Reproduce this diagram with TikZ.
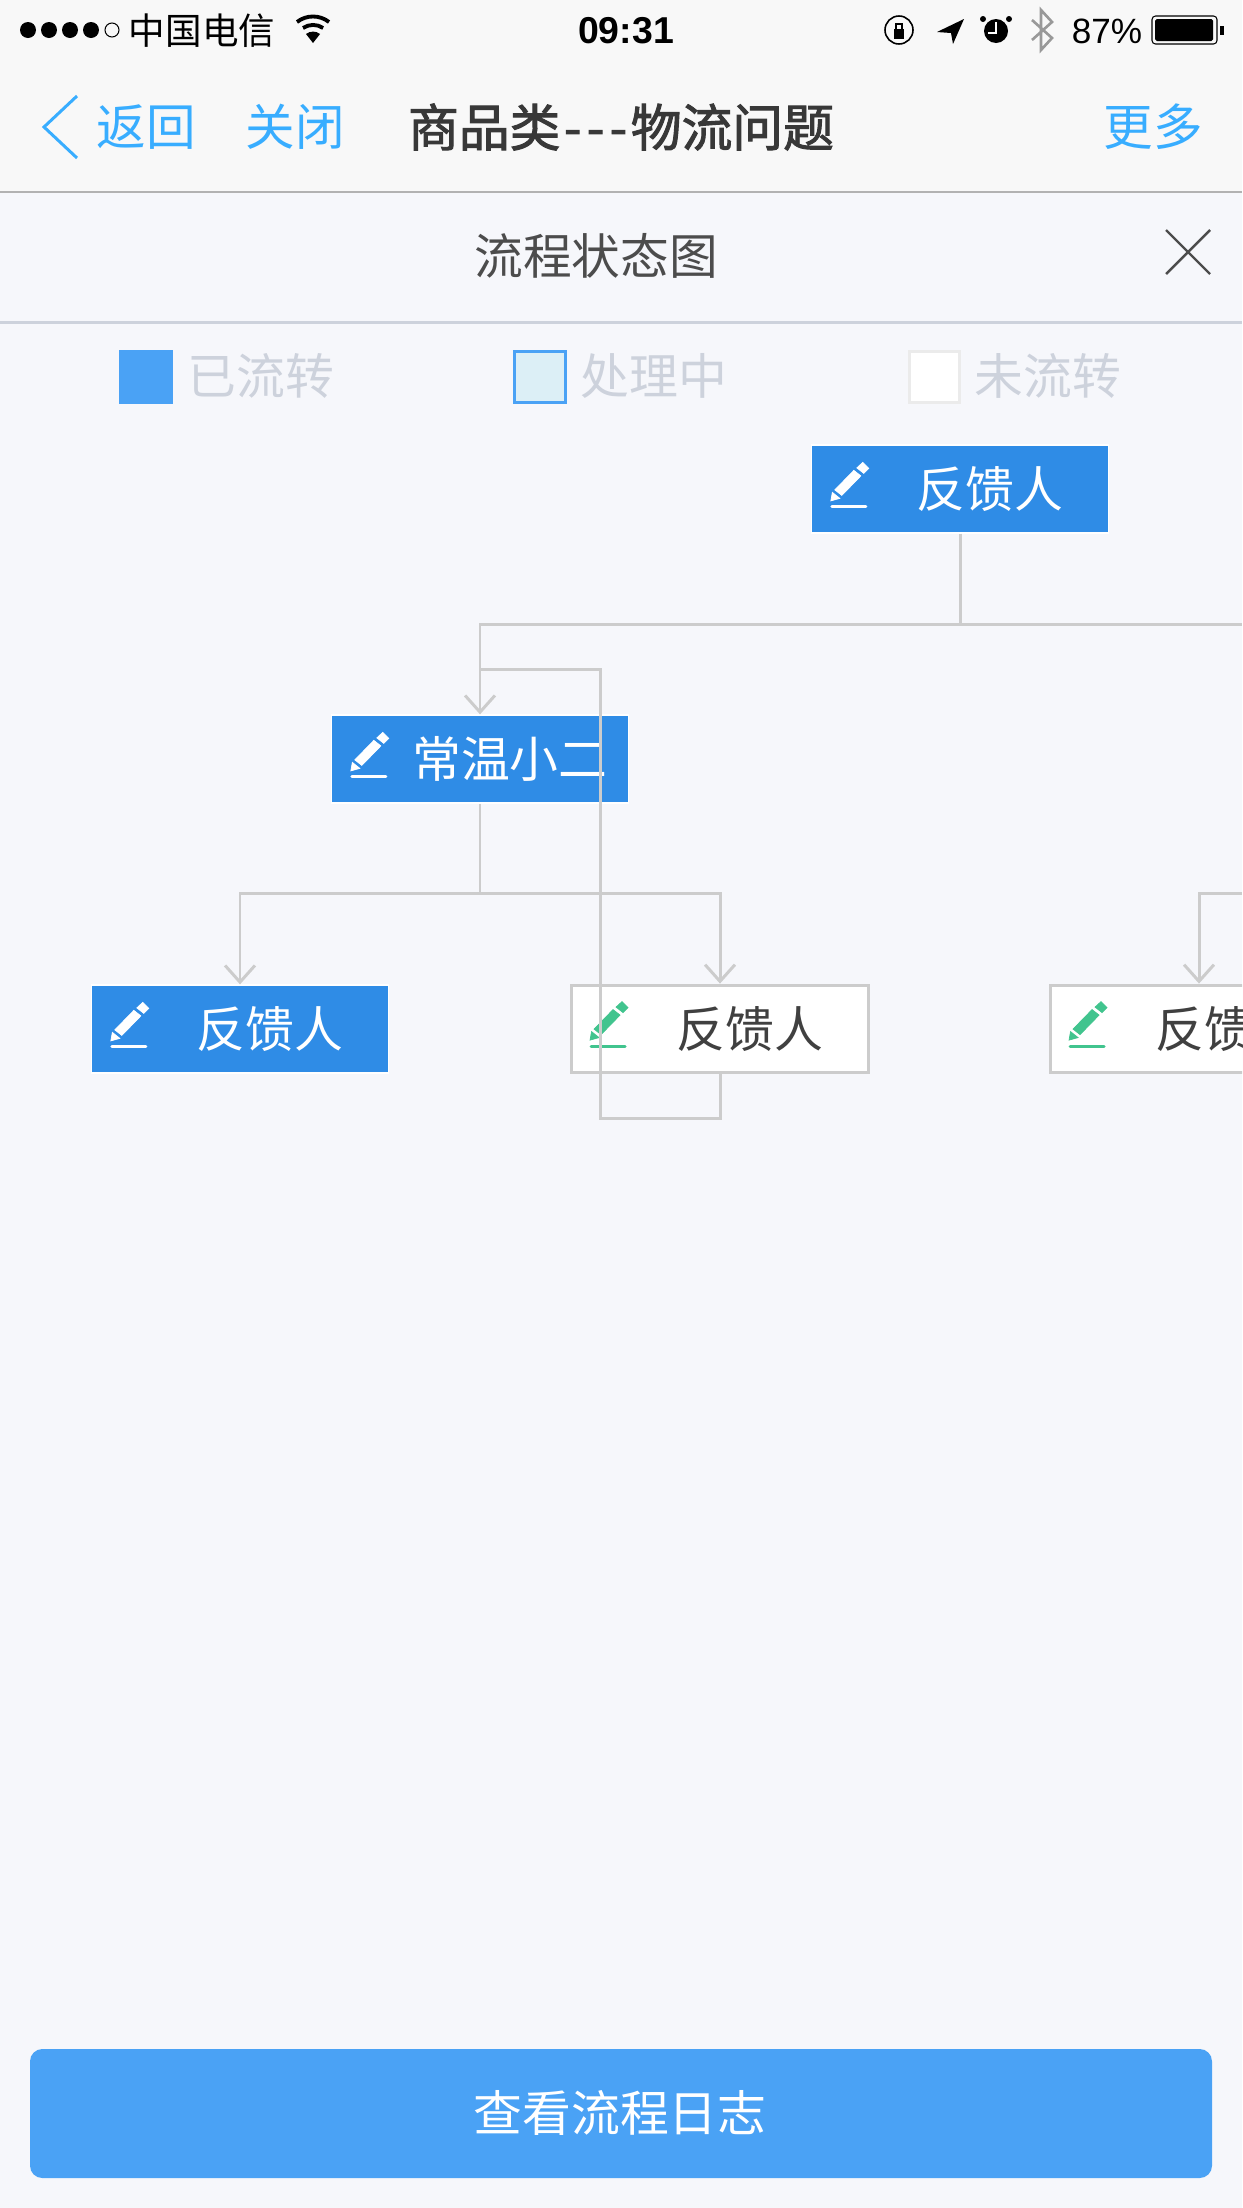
\documentclass[tikz,border=0pt]{standalone}
\usepackage{fontspec}
\usepackage{tikz}
\usetikzlibrary{arrows.meta}
\setmainfont{Noto Sans CJK SC}
\newfontfamily\latinfont{Liberation Sans}
\newcommand{\heavytext}[1]{\special{pdf:code q 2 Tr 0.55 w}#1\special{pdf:code Q}}
\definecolor{flowblue}{HTML}{2F8CE6}
\definecolor{legendblue}{HTML}{4AA2F5}
\definecolor{legendbusy}{HTML}{DCEFF6}
\definecolor{navblue}{HTML}{38ADFF}
\definecolor{flowgray}{HTML}{CCCCCC}
\definecolor{panelbg}{HTML}{F6F7FB}
\definecolor{barbg}{HTML}{F8F8F8}
\definecolor{mutedtext}{HTML}{CDD2DC}
\definecolor{pengreen}{HTML}{41C48E}
\tikzset{
  navlabel/.style={text=navblue,font=\fontsize{28.2}{30}\selectfont,inner sep=0pt},
  legendlabel/.style={text=mutedtext,font=\fontsize{27.8}{30}\selectfont,inner sep=0pt},
  statuslabel/.style={text=black,inner sep=0pt},
  doneflow/.style={draw=white,line width=0.8pt,fill=flowblue,text=white,minimum width=169pt,minimum height=50pt,inner sep=0pt,
    font=\fontsize{27.8}{30}\selectfont,execute at begin node=\hspace*{34pt}},
  waitflow/.style={doneflow,draw=flowgray,line width=1.7pt,fill=white,text=black!75},
  flowline/.style={draw=flowgray,line width=1.7pt},
  pencilicon/.pic={
    \fill[pic actions] (0,38.5) -- (1.5,30) -- (9,36) -- cycle;
    \fill[pic actions] (4,27.5) -- (23,8) -- (30,13.5) -- (11,33) -- cycle;
    \fill[pic actions] (26,5.5) -- (32,0) -- (38,6) -- (33,11) -- cycle;
    \draw[pic actions,line width=1.7pt,line cap=round] (1,44.5) -- (35,44.5);
  }
}
\begin{document}
\begin{tikzpicture}[x=0.02cm,y=-0.02cm,>={Straight Barb[length=9.5pt,width=17pt]}]
\useasboundingbox (0,0) rectangle (1242,2208);
\clip (0,0) rectangle (1242,2208);
\fill[panelbg] (0,0) rectangle (1242,2208);
\fill[barbg] (0,0) rectangle (1242,192);
\draw[color=black!30,line width=0.9pt] (0,192) -- (1242,192);
\draw[mutedtext,line width=1.7pt] (0,322) -- (1242,322);

\foreach \dotx in {28,49,70,91} \fill[black] (\dotx,30) circle (8);
\draw[black,line width=0.6pt] (112,30) circle (7);
\node[statuslabel,font=\fontsize{20.8}{22}\selectfont] (carrier) at (202,31) {中国电信};
\fill[black] (313,43) -- (306,34) arc (-128:-52:11.4) -- cycle;
\draw[black,line width=2.2pt] (303,28) arc (-124:-56:18);
\draw[black,line width=2.2pt] (297,22) arc (-128:-52:26);
\node[statuslabel,font=\latinfont\bfseries\fontsize{21.3}{22}\selectfont] (clock) at (626,31) {09:31};
\draw[black,line width=0.9pt] (899,30) circle (14);
\fill[black] (894,29) rectangle (904,39);
\draw[black,line width=0.9pt] (896,29) -- (896,24) -- (902,24) -- (902,29);
\fill[black] (937,32) -- (964,19) -- (953,44) -- (951,33) -- cycle;
\fill[black] (996,31) circle (12);
\draw[white,line width=0.8pt] (996,22) -- (996,33) -- (988,33);
\fill[black] (983,19) circle (3);
\fill[black] (1009,19) circle (3);
\draw[black!40,line width=1.5pt] (1032,20) -- (1052,38) -- (1041,50) -- (1041,10) -- (1052,22) -- (1032,40);
\node[statuslabel,font=\latinfont\fontsize{20}{22}\selectfont] (battery) at (1107,31) {87\%};
\draw[black,line width=0.6pt,rounded corners=2pt] (1152,16) rectangle (1217,44);
\fill[black,rounded corners=1pt] (1155,19) rectangle (1213,41);
\fill[black] (1220,26) rectangle (1224,35);

\draw[navblue,line width=1.7pt] (77,96) -- (44,127) -- (77,158);
\node[navlabel] (back) at (146,127) {返回};
\node[navlabel] (closepage) at (295,127) {关闭};
\node[inner sep=0pt,text=black!78,font=\fontsize{28.9}{32}\selectfont] (pagetitle) at (621,127) {\heavytext{商品类\hspace{2pt}-\hspace{3pt}-\hspace{3pt}-\hspace{2pt}物流问题}};
\node[navlabel] (more) at (1153,127) {更多};

\node[inner sep=0pt,text=black!70,font=\fontsize{27.7}{30}\selectfont] (paneltitle) at (596,256) {流程状态图};
\draw[black!70,line width=1.4pt] (1166,230) -- (1210,274);
\draw[black!70,line width=1.4pt] (1210,230) -- (1166,274);

\fill[legendblue] (119,350) rectangle (173,404);
\node[legendlabel] (legenddone) at (261,376) {已流转};
\draw[legendblue,fill=legendbusy,line width=1.7pt] (514.5,351.5) rectangle (565.5,402.5);
\node[legendlabel] (legendmid) at (654,376) {处理中};
\draw[black!8,fill=white,line width=1.7pt] (909.5,351.5) rectangle (959.5,402.5);
\node[legendlabel] (legendwait) at (1048,376) {未流转};

\fill[legendblue,rounded corners=7pt] (30,2049) rectangle (1212,2178);
\node[inner sep=0pt,text=white,font=\fontsize{27.8}{30}\selectfont] (logbutton) at (620,2113) {查看流程日志};

\node[doneflow] (reporter) at (960,489) {反馈人};
\node[doneflow] (keeper) at (480,759) {常温小二};
\node[doneflow] (leftreporter) at (240,1029) {反馈人};
\node[waitflow] (midreporter) at (720,1029) {反馈人};
\node[waitflow] (rightreporter) at (1199,1029) {反馈人};

\pic[fill=white,draw=white] at ([shift={(20,18)}]reporter.north west) {pencilicon};
\pic[fill=white,draw=white] at ([shift={(20,18)}]keeper.north west) {pencilicon};
\pic[fill=white,draw=white] at ([shift={(20,18)}]leftreporter.north west) {pencilicon};
\pic[fill=pengreen,draw=pengreen] at ([shift={(20,18)}]midreporter.north west) {pencilicon};
\pic[fill=pengreen,draw=pengreen] at ([shift={(20,18)}]rightreporter.north west) {pencilicon};

\coordinate (busa) at (960,624);
\coordinate (busaend) at (1242,624);
\coordinate (busb) at (480,893);
\coordinate (busc) at (1242,893);
\coordinate (loopa) at (720,1118);
\coordinate (loopb) at (600,1118);
\coordinate (loopc) at (600,669);
\coordinate (loopd) at (480,669);

\draw[flowline] (reporter.south) -- (busa);
\draw[flowline] (busa) -- (busaend);
\draw[flowline,->] (busa) -| (keeper.north);
\draw[flowline] (keeper.south) -- (busb);
\draw[flowline,->] (busb) -| (leftreporter.north);
\draw[flowline,->] (busb) -| (midreporter.north);
\draw[flowline,->] (busc) -| (rightreporter.north);
\draw[flowline] (midreporter.south) -- (loopa) -- (loopb) -- (loopc) -- (loopd);
\end{tikzpicture}
\end{document}
